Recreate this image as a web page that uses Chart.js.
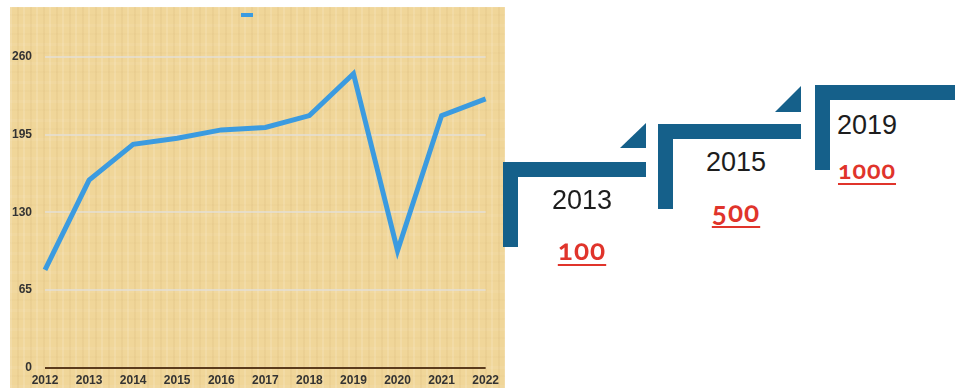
<!DOCTYPE html>
<html>
<head>
<meta charset="utf-8">
<script src="https://cdn.jsdelivr.net/npm/chart.js@4.4.1/dist/chart.umd.min.js"></script>
<style>
  body { margin: 0; width: 961px; height: 388px; background: #fff; position: relative; overflow: hidden; font-family: 'Liberation Sans', Arial, sans-serif; }
  #chart-box {
    position: absolute; left: 10px; top: 7px; width: 495px; height: 381px;
    background-color: #f0d699;
    background-image:
      repeating-linear-gradient(90deg, rgba(255,255,255,0.13) 0 2px, transparent 2px 7px, rgba(170,125,60,0.07) 7px 9px, transparent 9px 13px),
      repeating-linear-gradient(0deg, rgba(255,255,255,0.06) 0 3px, transparent 3px 11px, rgba(170,125,60,0.03) 11px 13px, transparent 13px 19px);
  }
  .bar, .tri { position: absolute; background: #15608a; }
  .tri { clip-path: polygon(100% 0, 100% 100%, 0 100%); }
  .year, .val { position: absolute; transform: translate(-50%, -50%); white-space: nowrap; }
  .year { font-size: 27px; color: #1d1d1d; }
  .val { font-family: Lato, 'Open Sans', sans-serif; font-weight: 700; color: #e0342b; text-decoration: underline; text-decoration-thickness: 2px; text-underline-offset: 4px; font-variant-numeric: oldstyle-nums; letter-spacing: 1px; }
</style>
</head>
<body>
<div id="chart-box"><canvas id="lineChart"></canvas></div>
<div id="steps"></div>
<script>
// Data
const years = ['2012', '2013', '2014', '2015', '2016', '2017', '2018', '2019', '2020', '2021', '2022'];
const values = [82, 157, 187, 192, 199, 201, 211, 246, 98, 211, 225];
const yTicks = [0, 65, 130, 195, 260];

// Milestones on the right
const msYears = ['2013', '2015', '2019'];
const msValues = ['100', '500', '1000'];

const lineBlue = '#3b9be0';
const tickFont = { size: 12, family: 'Liberation Sans', weight: 'bold' };

// Push the plot down below the legend dash
const legendGap = {
    id: 'legendGap',
    beforeInit(chart) {
        const fit = chart.legend.fit;
        chart.legend.fit = function () {
            fit.bind(chart.legend)();
            this.height += 26;
        };
    }
};

new Chart(document.getElementById('lineChart'), {
    type: 'line',
    data: {
        labels: years,
        datasets: [{
            label: '',
            data: values,
            borderColor: lineBlue,
            backgroundColor: lineBlue,
            borderWidth: 5,
            pointRadius: 0,
            tension: 0,
        }]
    },
    options: {
        responsive: true,
        maintainAspectRatio: false,
        animation: false,
        layout: { padding: { left: 0, right: 15, top: 0, bottom: 0 } },
        plugins: {
            tooltip: { enabled: false },
            legend: {
                display: true,
                position: 'top',
                labels: {
                    boxWidth: 12,
                    boxHeight: 4,
                    padding: 2,
                    font: { size: 12 },
                    generateLabels: (chart) =>
                        Chart.defaults.plugins.legend.labels.generateLabels(chart).map(l => ({ ...l, lineWidth: 0, text: '' })),
                },
            },
        },
        scales: {
            x: {
                grid: { display: false, drawTicks: false },
                border: { display: false },
                ticks: { color: '#333', font: tickFont, padding: 6, maxRotation: 0 },
                afterFit: (scale) => { scale.height = 20; },
            },
            y: {
                min: 0,
                max: 260,
                border: { display: false },
                grid: {
                    drawTicks: false,
                    color: (ctx) => ctx.tick && ctx.tick.value === 0 ? '#5b3b1c' : 'rgba(226,224,218,0.7)',
                    lineWidth: 2,
                },
                afterBuildTicks: (scale) => { scale.ticks = yTicks.map(v => ({ value: v })); },
                ticks: { color: '#333', font: tickFont, padding: 13 },
                afterFit: (scale) => { scale.width = 35; },
            },
        },
    },
    plugins: [legendGap],
});

// Step decorations with milestone text
const steps = document.getElementById('steps');
const stepLayout = [
    { x: 503, y: 162, w: 143, vh: 85, tri: [620, 123, 26, 25], yc: 200, vc: 249, xc: 582, fs: 28 },
    { x: 658, y: 124, w: 143, vh: 85, tri: [775, 86, 26, 26], yc: 162, vc: 211, xc: 736, fs: 28 },
    { x: 815, y: 85, w: 140, vh: 85, tri: null, yc: 125, vc: 169, xc: 867, fs: 25 },
];
stepLayout.forEach((s, i) => {
    steps.insertAdjacentHTML('beforeend', `
        <div class="bar" style="left:${s.x}px;top:${s.y}px;width:${s.w}px;height:15px"></div>
        <div class="bar" style="left:${s.x}px;top:${s.y}px;width:15px;height:${s.vh}px"></div>
        ${s.tri ? `<div class="tri" style="left:${s.tri[0]}px;top:${s.tri[1]}px;width:${s.tri[2]}px;height:${s.tri[3]}px"></div>` : ''}
        <div class="year" style="left:${s.xc}px;top:${s.yc}px">${msYears[i]}</div>
        <div class="val" style="left:${s.xc}px;top:${s.vc}px;font-size:${s.fs}px">${msValues[i]}</div>
    `);
});
</script>
</body>
</html>
